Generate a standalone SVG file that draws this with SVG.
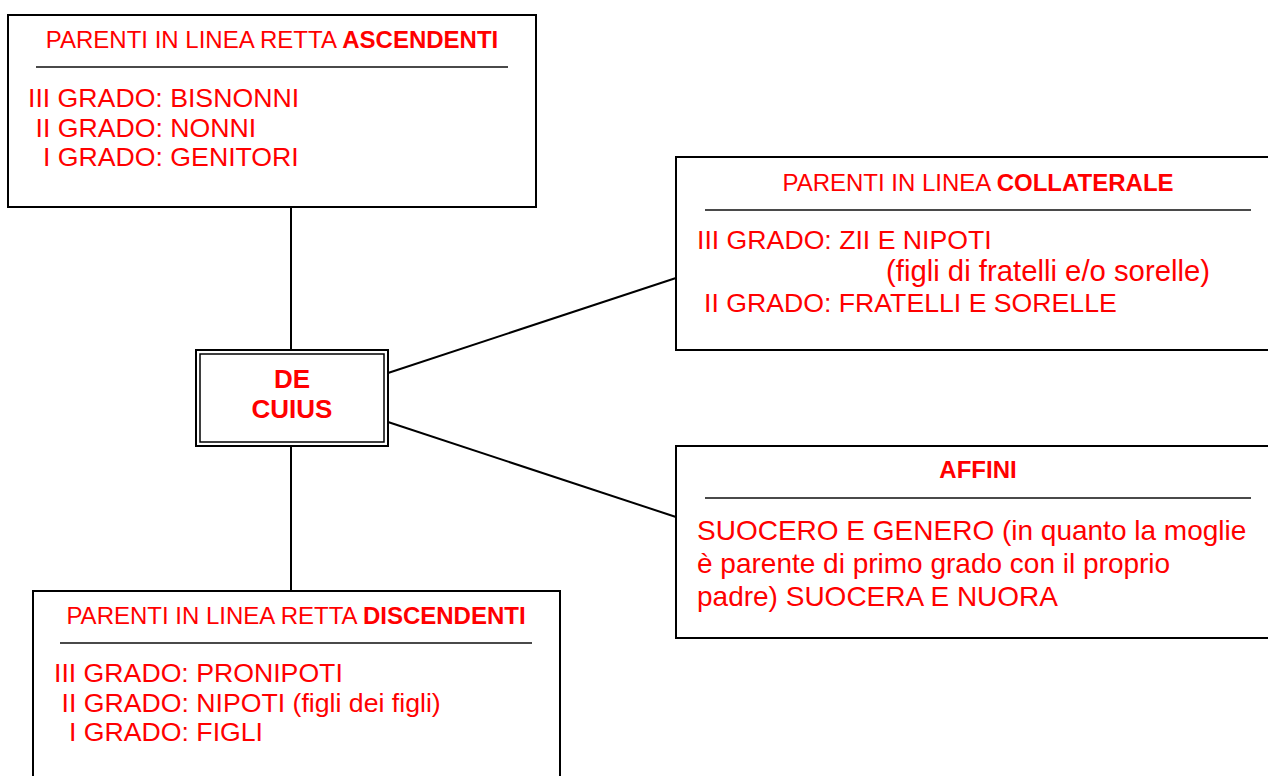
<svg xmlns="http://www.w3.org/2000/svg" width="1268" height="776" viewBox="0 0 1268 776">
<style>
.box{fill:#fff;stroke:#000;stroke-width:2}
.div{stroke:#4a4a4a;stroke-width:2}
.t{font-family:"Liberation Sans",Arial,sans-serif;fill:#ff0000}
.title{font-size:24px}
.body{font-size:26.67px}
.big{font-size:28px}
.b{font-weight:bold}
.conn{stroke:#000;stroke-width:2;fill:none}
</style>
<rect width="1268" height="776" fill="#fff"/>
<g id="connectors">
<line class="conn" x1="291" y1="207" x2="291" y2="350"/>
<line class="conn" x1="291" y1="446" x2="291" y2="591"/>
<line class="conn" x1="388" y1="373" x2="676" y2="278"/>
<line class="conn" x1="388" y1="422" x2="676" y2="517"/>
</g>
<g id="ascendenti">
<rect class="box" x="8" y="15" width="528" height="192"/>
<text class="t title" x="272" y="48" text-anchor="middle">PARENTI IN LINEA RETTA <tspan class="b">ASCENDENTI</tspan></text>
<line class="div" x1="36" y1="67" x2="508" y2="67"/>
<text class="t body" x="28" y="107">III GRADO: BISNONNI</text>
<text class="t body" x="35.5" y="137">II GRADO: NONNI</text>
<text class="t body" x="43" y="166">I GRADO: GENITORI</text>
</g>
<g id="decuius">
<rect class="box" x="196" y="350" width="192" height="96" stroke-width="2"/>
<rect x="200" y="354" width="184" height="88" fill="none" stroke="#000" stroke-width="1.5"/>
<text class="t b" font-size="26" x="292" y="388" text-anchor="middle">DE</text>
<text class="t b" font-size="26" x="292" y="418" text-anchor="middle">CUIUS</text>
</g>
<g id="collaterale">
<rect class="box" x="676" y="157" width="600" height="193"/>
<text class="t title" x="978" y="191" text-anchor="middle">PARENTI IN LINEA <tspan class="b">COLLATERALE</tspan></text>
<line class="div" x1="705" y1="210" x2="1251" y2="210"/>
<text class="t body" x="697" y="249">III GRADO: ZII E NIPOTI</text>
<text class="t" font-size="29.3" x="886" y="281">(figli di fratelli e/o sorelle)</text>
<text class="t body" x="704" y="312">II GRADO: FRATELLI E SORELLE</text>
</g>
<g id="affini">
<rect class="box" x="676" y="446" width="600" height="192"/>
<text class="t title b" x="978" y="478" text-anchor="middle">AFFINI</text>
<line class="div" x1="705" y1="498" x2="1251" y2="498"/>
<text class="t big" x="697" y="540">SUOCERO E GENERO (in quanto la moglie</text>
<text class="t big" x="697" y="573">è parente di primo grado con il proprio</text>
<text class="t big" x="697" y="606">padre) SUOCERA E NUORA</text>
</g>
<g id="discendenti">
<rect class="box" x="33" y="591" width="527" height="200"/>
<text class="t title" x="296" y="624" text-anchor="middle">PARENTI IN LINEA RETTA <tspan class="b">DISCENDENTI</tspan></text>
<line class="div" x1="60" y1="643" x2="532" y2="643"/>
<text class="t body" x="54" y="682">III GRADO: PRONIPOTI</text>
<text class="t body" x="61.5" y="712">II GRADO: NIPOTI (figli dei figli)</text>
<text class="t body" x="69" y="741">I GRADO: FIGLI</text>
</g>
</svg>
